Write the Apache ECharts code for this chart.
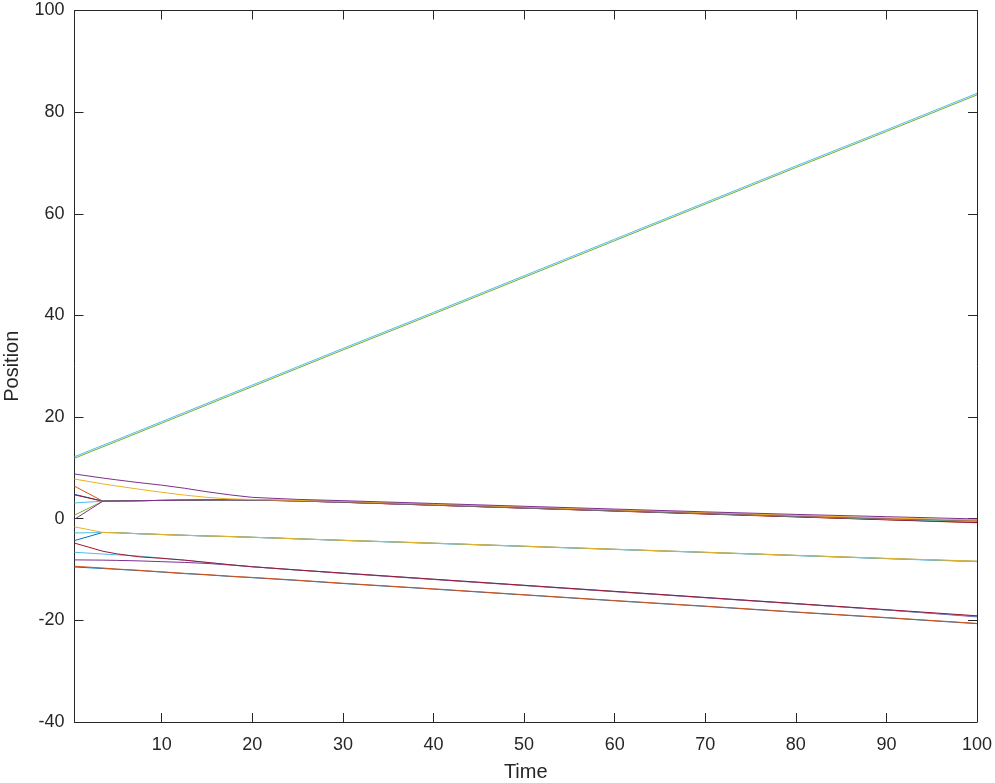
<!DOCTYPE html>
<html>
<head>
<meta charset="utf-8">
<script src="https://cdn.jsdelivr.net/npm/echarts@6/dist/echarts.min.js"></script>
<style>
html,body{margin:0;padding:0;background:#fff;}
#chart{width:995px;height:783px;}
</style>
</head>
<body>
<div id="chart"></div>
<script>
// ---- data ----
const time = [0.37, 3.5, 5, 7.5, 10, 12.5, 15, 17.5, 20, 25, 30, 40, 50, 60, 70, 80, 90, 100];

// group rising
const riseA1 = [12.2, 14.45, 15.5, 17.3, 19.1, 20.9, 22.7, 24.5, 26.3, 29.9, 33.5, 40.6, 47.8, 55.0, 62.2, 69.4, 76.5, 83.7];
const riseA2 = [11.9, 14.15, 15.2, 17.0, 18.8, 20.6, 22.4, 24.2, 26.0, 29.6, 33.2, 40.3, 47.5, 54.7, 61.9, 69.1, 76.2, 83.4];

// group near 3
const grpB1 = [8.8, 8.0, 7.65, 7.1, 6.6, 6.0, 5.3, 4.7, 4.2, 3.8, 3.55, 3.0, 2.45, 1.9, 1.35, 0.85, 0.4, -0.05];
const grpB2 = [7.8, 6.85, 6.45, 5.8, 5.2, 4.65, 4.2, 3.9, 3.78, 3.6, 3.4, 2.85, 2.3, 1.75, 1.2, 0.65, 0.15, -0.3];
const grpB3 = [6.4, 3.45, 3.5, 3.55, 3.6, 3.65, 3.7, 3.72, 3.68, 3.5, 3.22, 2.65, 2.08, 1.5, 0.92, 0.35, -0.22, -0.8];
const grpB4 = [4.8, 3.45, 3.5, 3.55, 3.6, 3.65, 3.7, 3.7, 3.67, 3.5, 3.24, 2.68, 2.1, 1.55, 0.98, 0.42, -0.15, -0.7];
const grpB5 = [4.7, 3.45, 3.5, 3.55, 3.6, 3.65, 3.69, 3.7, 3.66, 3.49, 3.23, 2.66, 2.09, 1.52, 0.95, 0.38, -0.19, -0.75];
const grpB6 = [3.1, 3.45, 3.5, 3.55, 3.6, 3.65, 3.7, 3.72, 3.7, 3.53, 3.28, 2.72, 2.16, 1.6, 1.04, 0.48, -0.05, -0.55];
const grpB7 = [0.7, 3.45, 3.5, 3.55, 3.6, 3.65, 3.7, 3.72, 3.7, 3.54, 3.29, 2.74, 2.18, 1.62, 1.07, 0.52, -0.02, -0.45];
const grpB8 = [-0.1, 3.45, 3.5, 3.55, 3.6, 3.65, 3.7, 3.72, 3.7, 3.55, 3.3, 2.75, 2.2, 1.65, 1.1, 0.55, 0.05, -0.35];

// group near -3
const grpC1 = [-1.6, -2.7, -2.75, -2.95, -3.1, -3.25, -3.4, -3.5, -3.65, -3.95, -4.25, -4.8, -5.4, -6.0, -6.6, -7.2, -7.8, -8.35];
const grpC2 = [-4.3, -2.7, -2.75, -2.95, -3.1, -3.25, -3.4, -3.5, -3.65, -3.95, -4.25, -4.82, -5.42, -6.02, -6.62, -7.22, -7.83, -8.4];
const grpC3 = [-2.8, -2.72, -2.77, -2.97, -3.12, -3.27, -3.42, -3.52, -3.67, -3.97, -4.28, -4.85, -5.45, -6.05, -6.65, -7.25, -7.86, -8.45];

// group near -8
const grpD1 = [-4.8, -6.4, -6.9, -7.5, -7.8, -8.15, -8.6, -9.05, -9.45, -10.1, -10.7, -11.9, -13.1, -14.3, -15.5, -16.7, -17.9, -19.1];
const grpD2 = [-6.6, -6.95, -7.1, -7.35, -7.75, -8.15, -8.6, -9.05, -9.45, -10.1, -10.7, -11.9, -13.1, -14.3, -15.5, -16.7, -17.95, -19.2];
const grpD3 = [-8.1, -8.15, -8.2, -8.3, -8.45, -8.6, -8.8, -9.1, -9.45, -10.1, -10.75, -11.95, -13.15, -14.35, -15.55, -16.75, -17.95, -19.3];

// group near -10
const grpE1 = [-9.35, -9.7, -9.9, -10.15, -10.45, -10.75, -11.0, -11.3, -11.55, -12.1, -12.7, -13.8, -14.95, -16.1, -17.2, -18.35, -19.45, -20.6];
const grpE2 = [-9.5, -9.8, -9.95, -10.2, -10.5, -10.8, -11.05, -11.35, -11.6, -12.15, -12.75, -13.85, -15.0, -16.15, -17.25, -18.4, -19.5, -20.65];

const xTicks = [10, 20, 30, 40, 50, 60, 70, 80, 90, 100];
const xMin = 0.37, xMax = 100;
const yMin = -40, yMax = 100, yStep = 20;

// ---- styles ----
const C = {blue:'#0072BD', orange:'#D95319', yellow:'#EDB120', purple:'#7E2F8E', green:'#77AC30', lblue:'#4DBEEE', red:'#A2142F'};
const lines = [
  [grpB3, C.orange], [grpB4, C.blue], [grpB5, C.red], [grpB6, C.lblue], [grpB7, C.green], [grpB8, C.purple],
  [grpB2, C.yellow], [grpB1, C.purple],
  [grpC2, C.blue], [grpC3, C.lblue], [grpC1, C.yellow],
  [grpD3, C.purple], [grpD2, C.lblue], [grpD1, C.red],
  [grpE2, C.blue], [grpE1, C.orange],
  [riseA2, C.green], [riseA1, C.lblue]
];

const axisCol = '#262626';
const font = 'Liberation Sans, Arial, Helvetica, sans-serif';

const series = lines.map(([vals, col]) => ({
  type: 'line',
  data: time.map((t, i) => [t, vals[i]]),
  showSymbol: false,
  symbol: 'none',
  lineStyle: {color: col, width: 1},
  itemStyle: {color: col},
  silent: true,
  z: 2
}));

const chart = echarts.init(document.getElementById('chart'), null, {renderer: 'canvas'});
chart.setOption({
  animation: false,
  backgroundColor: '#ffffff',
  grid: {left: 74.5, right: 18, top: 10.5, bottom: 61, containLabel: false, outerBoundsMode: 'none'},
  xAxis: [{
    type: 'value', min: xMin, max: xMax, position: 'bottom',
    name: 'Time', nameLocation: 'middle', nameGap: 40,
    nameTextStyle: {fontFamily: font, fontSize: 20, color: axisCol},
    axisLine: {show: true, onZero: false, lineStyle: {color: axisCol, width: 1}},
    axisTick: {show: true, inside: true, length: 9, customValues: xTicks, lineStyle: {color: axisCol}},
    axisLabel: {show: true, customValues: xTicks, margin: 14, fontFamily: font, fontSize: 18, color: axisCol},
    splitLine: {show: false}
  }, {
    type: 'value', min: xMin, max: xMax, position: 'top',
    axisLine: {show: true, onZero: false, lineStyle: {color: axisCol, width: 1}},
    axisTick: {show: true, inside: true, length: 9, customValues: xTicks, lineStyle: {color: axisCol}},
    axisLabel: {show: false},
    splitLine: {show: false}
  }],
  yAxis: [{
    type: 'value', min: yMin, max: yMax, interval: yStep, position: 'left',
    name: 'Position', nameLocation: 'middle', nameGap: 52, nameRotate: 90,
    nameTextStyle: {fontFamily: font, fontSize: 20, color: axisCol},
    axisLine: {show: true, onZero: false, lineStyle: {color: axisCol, width: 1}},
    axisTick: {show: true, inside: true, length: 9, lineStyle: {color: axisCol}},
    axisLabel: {show: true, margin: 10, fontFamily: font, fontSize: 18, color: axisCol},
    splitLine: {show: false}
  }, {
    type: 'value', min: yMin, max: yMax, interval: yStep, position: 'right',
    axisLine: {show: true, onZero: false, lineStyle: {color: axisCol, width: 1}},
    axisTick: {show: true, inside: true, length: 9, lineStyle: {color: axisCol}},
    axisLabel: {show: false},
    splitLine: {show: false}
  }],
  series: series
});
</script>
</body>
</html>
